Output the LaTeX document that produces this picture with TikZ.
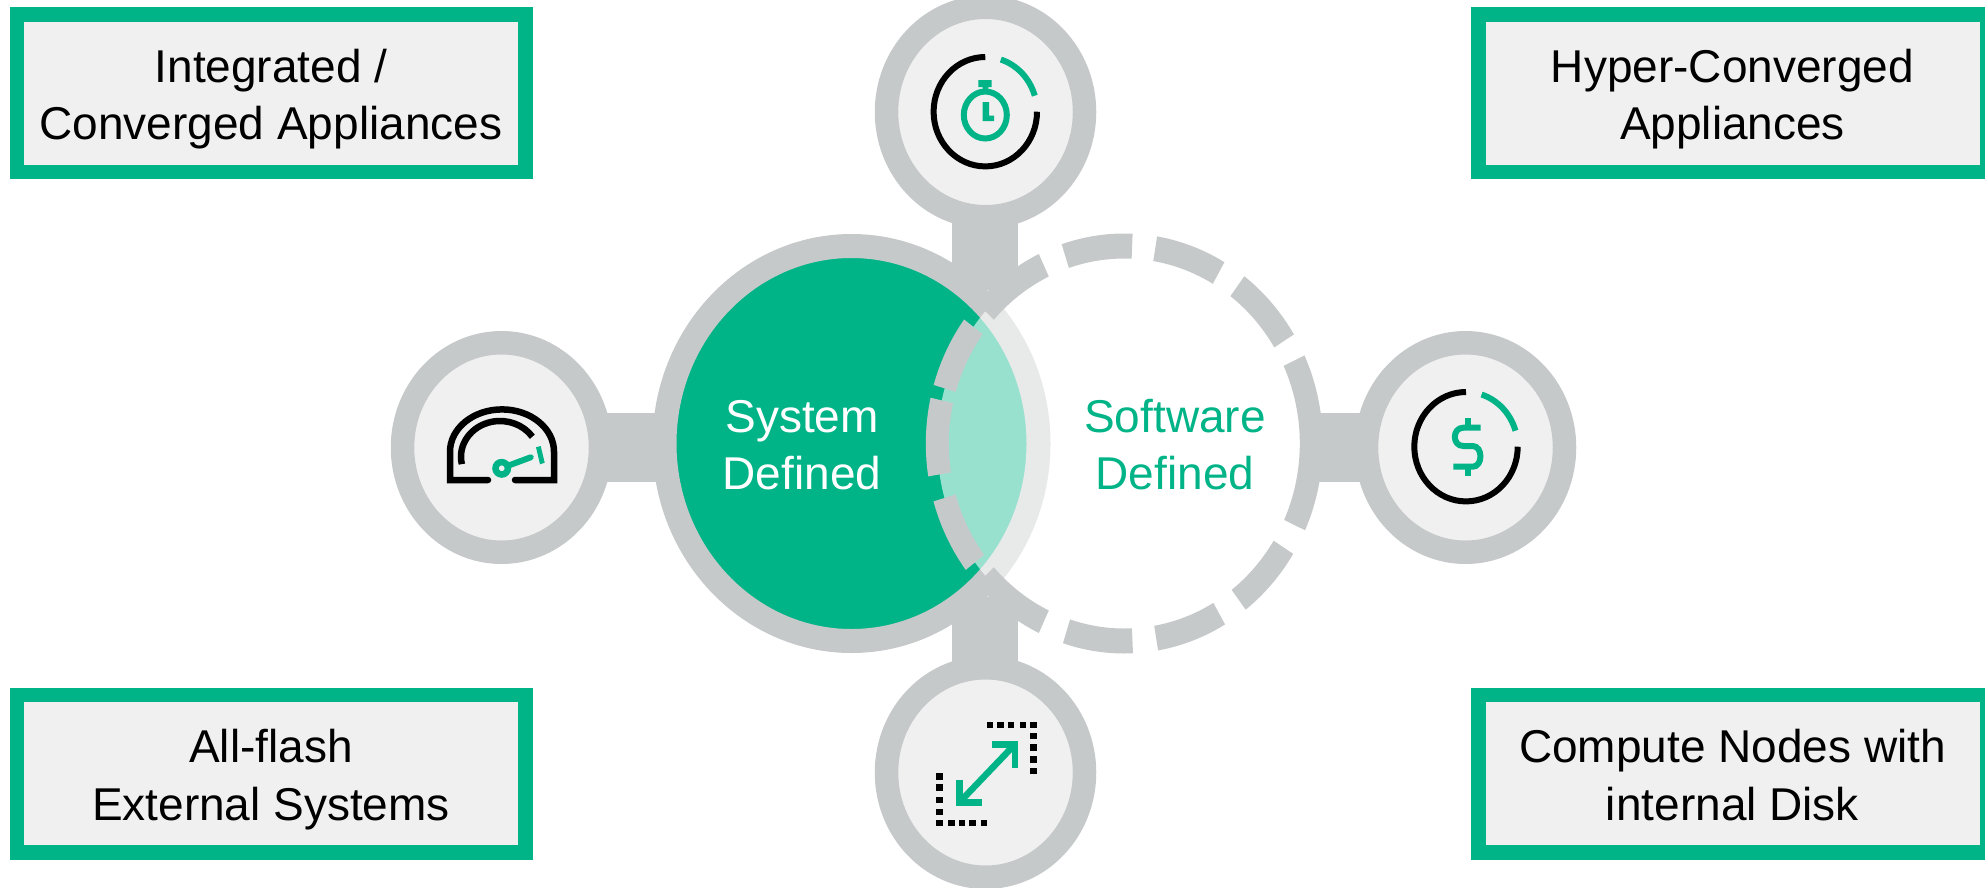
\documentclass[tikz,border=0pt]{standalone}
\usepackage{fontspec}
\setmainfont{Liberation Sans}
\usetikzlibrary{shapes.geometric}
\definecolor{hpegreen}{HTML}{01B488}
\definecolor{ringgray}{HTML}{C6C9CA}
\definecolor{panel}{HTML}{F0F0F0}
\pgfdeclarelayer{back}
\pgfsetlayers{back,main}
\newcommand\toprule{\rule{0pt}{46pt}}
\newcommand\botrule{\rule[-10.5pt]{0pt}{10.5pt}}
\tikzset{
  lab/.style={font=\fontsize{46}{57.5}\selectfont,align=center,inner sep=0pt},
  infobox/.style={lab,draw=hpegreen,fill=panel,line width=14.5pt,minimum width=508.5pt,minimum height=157.5pt},
  iconring/.style={ellipse,draw=ringgray,fill=panel,line width=23.5pt,minimum width=198pt,minimum height=209.5pt,inner sep=0pt},
  bigdisc/.style={ellipse,minimum width=374pt,minimum height=395pt,inner sep=0pt},
  bar/.style={draw=ringgray,line width=#1},
  seg/.style={fill=ringgray},
  ink/.style={draw=black,line width=6pt},
  gink/.style={draw=hpegreen,line width=6pt},
}
\newcommand\timerarcs[2]{%
  \draw[ink] ([shift={(90:51.7pt and 54.7pt)}]#1,#2) arc[start angle=90,end angle=360,x radius=51.7pt,y radius=54.7pt];
  \draw[gink] ([shift={(72.5:51.7pt and 54.7pt)}]#1,#2) arc[start angle=72.5,end angle=17,x radius=51.7pt,y radius=54.7pt];
}
\begin{document}
\begin{tikzpicture}[x=1pt,y=-1pt]
\useasboundingbox (0,0) rectangle (1985,887);
% text boxes
\node[infobox] (b1) at (271,93) {\toprule Integrated /\\Converged Appliances\botrule};
\node[infobox] (b2) at (1732.5,93) {\toprule Hyper-Converged\\Appliances\botrule};
\node[infobox] (b3) at (271,773.75) {\toprule All-flash\\External Systems\botrule};
\node[infobox] (b4) at (1732.5,773.75) {\toprule Compute Nodes with\\internal Disk\botrule};
% big circles
\node[bigdisc,draw=ringgray,line width=24pt,fill=hpegreen] (sys) at (851.5,443.5) {};
\node[bigdisc,fill=white,fill opacity=.6] (sft) at (1124.3,443.5) {};
\node[lab,text=white] (systxt) at (802,443) {\toprule System\\Defined\botrule};
\node[lab,text=hpegreen] (sfttxt) at (1175,443) {\toprule Software\\Defined\botrule};
% dashed ring of the software circle
\foreach \a/\b in {87.6/108.4,80.5/59.7,52.8/31.3,24.8/-24.4,-31.7/-52.3,-59.5/-80.2,-87.5/-108,-115.5/-138,115.5/138,143.8/163.8,167.4/189,196/217}{
  \fill[seg] ([shift={(\a:198.5pt and 210pt)}]sft.center) arc[start angle=\a,end angle=\b,x radius=198.5pt,y radius=210pt]
    -- ([shift={(\b:175.5pt and 185pt)}]sft.center) arc[start angle=\b,end angle=\a,x radius=175.5pt,y radius=185pt] -- cycle;
}
% icon circles
\node[iconring] (top) at (985.5,112) {};
\node[iconring] (lft) at (501.5,447.5) {};
\node[iconring] (rgt) at (1465.5,447.5) {};
\node[iconring] (bot) at (985.5,772.5) {};
\coordinate (topEnd) at (985,290);
\coordinate (botEnd) at (985,597);
\coordinate (rgtEnd) at (1310,447.5);
\begin{pgfonlayer}{back}
  \draw[bar=66pt] (top.center -| topEnd) -- (topEnd);
  \draw[bar=66pt] (bot.center -| botEnd) -- (botEnd);
  \draw[bar=69pt] (lft.center) -- (lft.center -| sys.center);
  \draw[bar=69pt] (rgt.center) -- (rgtEnd);
\end{pgfonlayer}
% stopwatch icon
\timerarcs{985.3}{111.7}
\draw[gink] (985.3,115) ellipse [x radius=21.5pt,y radius=23.5pt];
\fill[hpegreen] (978.3,80) rectangle (991.7,87) (982.7,87) rectangle (988.3,92);
\fill[hpegreen] (982.7,102) -- (989,102) -- (989,115.7) -- (994,115.7) -- (994,121) -- (982.7,121) -- cycle;
% dollar icon
\timerarcs{1466}{446.7}
\draw[gink] (1480.7,427.7) -- (1463.3,427.7) .. controls (1452,427.7) and (1452,446) .. (1463.3,446) -- (1472.7,446) .. controls (1483,446) and (1483,466.7) .. (1472.7,466.7) -- (1453.3,466.7);
\draw[gink] (1468.3,418.3) -- (1468.3,427.7) (1468.3,466.7) -- (1468.3,475.7);
% gauge icon
\draw[ink,line width=6.5pt,line cap=round,miter limit=10] (488,480) -- (450,480) -- (450,451.7) arc[start angle=180,end angle=0,x radius=52pt,y radius=42.3pt] -- (554,480) -- (515,480);
\draw[ink,line width=6.5pt] ([shift={(192:39pt and 35.7pt)}]500,456.7) arc[start angle=192,end angle=34,x radius=39pt,y radius=35.7pt];
\draw[draw=hpegreen,line width=6.5pt] (501.7,468.3) circle [radius=6.2pt];
\draw[gink,line cap=round] (510,465) -- (530.7,457.3);
\fill[hpegreen] (536,447.3) -- (540.7,446) -- (544.7,462.7) -- (540,464.3) -- cycle;
% resize icon
\foreach \x/\y in {990/725,1000.3/725,1011/725,1023/725,1033.7/725,1033.7/736,1033.7/747.3,1033.7/759.3,1033.7/771,939.3/776.7,939.3/787.7,939.3/800,939.3/812,939.3/823,951.3/823,962/823,972.7/823,984/823}{
  \fill[black] (\x-3.3,\y-3.3) rectangle (\x+3.3,\y+3.3);
}
\draw[gink,line width=6.5pt] (992.3,744.3) -- (1015,744.3) -- (1015,767.7);
\draw[gink,line width=6.5pt] (959.3,780) -- (959.3,802.7) -- (981.7,802.7);
\draw[gink,line width=6.5pt] (1013,746.3) -- (961,800.7);
\end{tikzpicture}
\end{document}
